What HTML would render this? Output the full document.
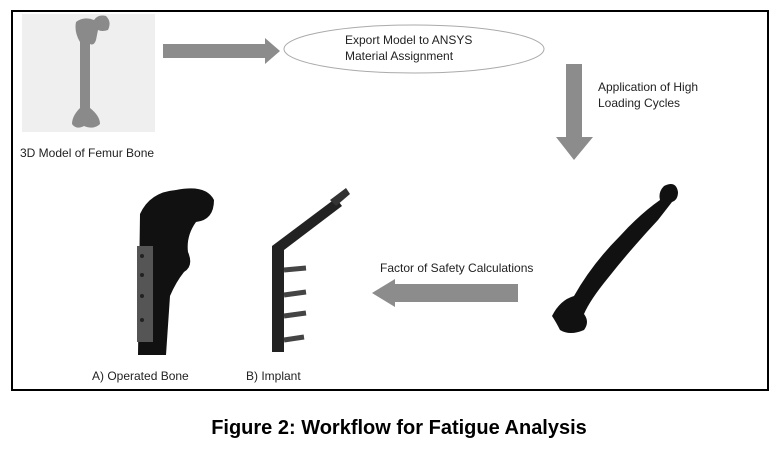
<!DOCTYPE html>
<html><head><meta charset="utf-8"><style>
body{margin:0;background:#fff}
svg text{font-family:"Liberation Sans",sans-serif;fill:#222}
</style></head><body>
<svg width="780" height="449" viewBox="0 0 780 449">
<rect x="12" y="11" width="756" height="379" fill="#fff" stroke="#000" stroke-width="2"/>
<!-- femur top-left -->
<rect x="22" y="14" width="133" height="118" fill="#efefef"/>
<path d="M76,22 Q84,16 94,20 Q98,14 106,16 Q112,22 108,30 Q102,32 98,30 L96,40 Q94,46 90,44 L90,108 Q100,116 100,124 Q94,130 84,126 Q76,130 72,124 Q72,116 80,108 L80,42 Q74,32 76,22Z" fill="#8a8a8a"/>
<text x="20" y="157" font-size="12">3D Model of Femur Bone</text>
<!-- arrow 1 -->
<polygon points="163,44 265,44 265,38 280,51 265,64 265,58 163,58" fill="#8c8c8c"/>
<ellipse cx="414" cy="49" rx="130" ry="24" fill="#fff" stroke="#aaa" stroke-width="1"/>
<text x="345" y="44" font-size="12">Export Model to ANSYS</text>
<text x="345" y="60" font-size="12">Material Assignment</text>
<!-- down arrow -->
<polygon points="566,64 582,64 582,137 593,137 574,160 556,137 566,137" fill="#8c8c8c"/>
<text x="598" y="91" font-size="12">Application of High</text>
<text x="598" y="107" font-size="12">Loading Cycles</text>
<!-- right femur -->
<path d="M664,186 Q676,180 678,192 Q678,200 672,202 L658,220 Q630,250 608,278 Q590,300 584,314 Q590,322 584,330 Q570,336 560,330 Q556,322 552,316 Q560,300 574,296 Q592,264 620,236 Q640,214 660,200 Q658,192 664,186Z" fill="#111"/>
<!-- left arrow -->
<polygon points="518,284 395,284 395,279 372,293 395,307 395,302 518,302" fill="#8c8c8c"/>
<text x="380" y="272" font-size="12">Factor of Safety Calculations</text>
<!-- operated bone -->
<path d="M140,214 Q150,192 176,190 Q206,184 214,200 Q214,220 196,222 Q186,236 188,252 Q194,266 184,272 Q176,282 170,296 L166,355 L138,355 Z" fill="#111"/>
<rect x="137" y="246" width="16" height="96" fill="#555"/>
<g fill="#222"><circle cx="142" cy="256" r="2"/><circle cx="142" cy="275" r="2"/><circle cx="142" cy="296" r="2"/><circle cx="142" cy="320" r="2"/></g>
<!-- implant -->
<path d="M272,246 L280,240 L336,198 L342,206 L284,250 L284,352 L272,352Z" fill="#222"/>
<path d="M330,200 L346,188 L350,194 L336,206Z" fill="#333"/>
<g stroke="#444" stroke-width="5"><line x1="284" y1="270" x2="306" y2="268"/><line x1="284" y1="295" x2="306" y2="292"/><line x1="284" y1="316" x2="306" y2="313"/><line x1="284" y1="340" x2="304" y2="337"/></g>
<text x="92" y="380" font-size="12">A) Operated Bone</text>
<text x="246" y="380" font-size="12">B) Implant</text>
<text x="399" y="434" font-size="20" font-weight="bold" text-anchor="middle" style="fill:#000">Figure 2: Workflow for Fatigue Analysis</text>
</svg>
</body></html>
